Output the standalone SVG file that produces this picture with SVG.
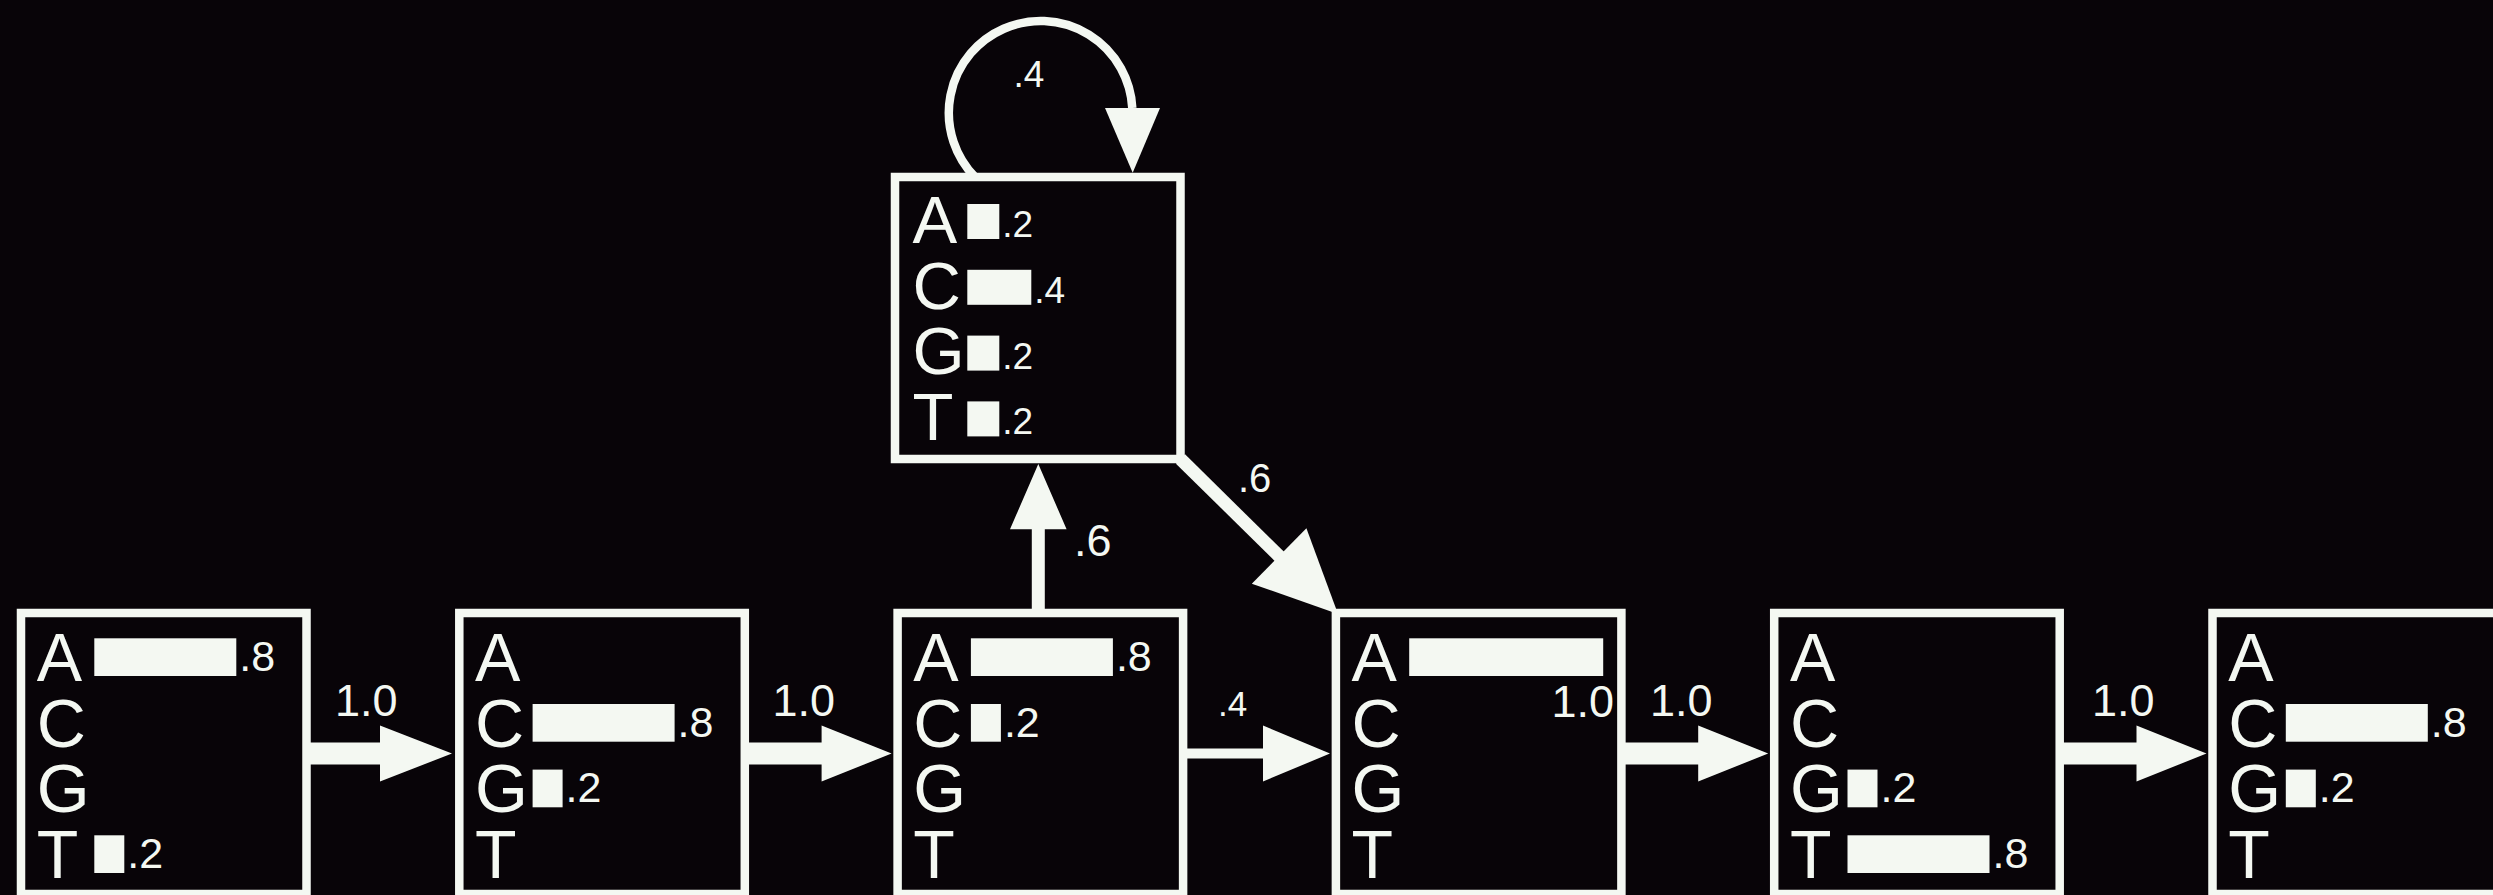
<svg xmlns="http://www.w3.org/2000/svg" width="2493" height="895" viewBox="0 0 2493 895">
<style>
.box{fill:#080408;stroke:#f4f8f2;stroke-width:8.5}
.bar{fill:#f4f8f2}
.nt{font-family:"Liberation Sans",Arial,sans-serif;font-size:68px;fill:#f4f8f2}
.nt2{font-family:"Liberation Sans",Arial,sans-serif;font-size:67px;fill:#f4f8f2}
.pv{font-family:"Liberation Sans",Arial,sans-serif;font-size:43px;fill:#f4f8f2}
.pv2{font-family:"Liberation Sans",Arial,sans-serif;font-size:37px;fill:#f4f8f2}
.el{font-family:"Liberation Sans",Arial,sans-serif;font-size:45px;fill:#f4f8f2}
.arw{fill:#f4f8f2}
.ln{stroke:#f4f8f2;fill:none}
</style>
<rect x="0" y="0" width="2493" height="895" fill="#080408"/>
<g id="connectors">
<polygon class="arw" points="306.5,742.5 380,742.5 380,725.5 452,753.5 380,781.5 380,764.5 306.5,764.5"/>
<polygon class="arw" points="744.8,742.5 821.6,742.5 821.6,725.5 891.6,753.5 821.6,781.5 821.6,764.5 744.8,764.5"/>
<polygon class="arw" points="1183.1,748.5 1263,748.5 1263,725.5 1330,753.5 1263,781.5 1263,758.5 1183.1,758.5"/>
<polygon class="arw" points="1621.4,742.5 1698.2,742.5 1698.2,725.5 1768.2,753.5 1698.2,781.5 1698.2,764.5 1621.4,764.5"/>
<polygon class="arw" points="2059.7,742.5 2136.5,742.5 2136.5,725.5 2206.5,753.5 2136.5,781.5 2136.5,764.5 2059.7,764.5"/>
<polygon class="arw" points="1031.8,609 1031.8,529.3 1010,529.3 1038.3,464 1066.6,529.3 1044.8,529.3 1044.8,609"/>
<line class="ln" x1="1180.5" y1="459" x2="1282" y2="559" stroke-width="13"/>
<polygon class="arw" points="1306.4,528.3 1338,614 1251.8,583.7"/>
<path class="ln" d="M 975 177 A 91.8 91.8 0 1 1 1132.3 108" stroke-width="8.5"/>
<polygon class="arw" points="1105,108 1160,108 1132.7,172.7"/>
<text class="el" x="335" y="716">1.0</text>
<text class="el" x="772.5" y="716">1.0</text>
<text class="el" x="1218" y="716" style="font-size:35px">.4</text>
<text class="el" x="1650" y="716">1.0</text>
<text class="el" x="2092" y="716">1.0</text>
<text class="el" x="1074" y="556">.6</text>
<text class="el" x="1238" y="491.5" style="font-size:40px">.6</text>
<text class="el" x="1013.5" y="86.7" style="font-size:37px">.4</text>
</g>
<g id="state-top">
<rect class="box" x="895" y="177" width="285.5" height="282"/>
<text class="nt2" x="912.5" y="242.7">A</text>
<text class="nt2" x="912.5" y="308.5">C</text>
<text class="nt2" x="912.5" y="374.3">G</text>
<text class="nt2" x="912.5" y="440.1">T</text>
<rect class="bar" x="967.3" y="204" width="32" height="35"/>
<rect class="bar" x="967.3" y="269.8" width="64" height="35"/>
<rect class="bar" x="967.3" y="335.6" width="32" height="35"/>
<rect class="bar" x="967.3" y="401.4" width="32" height="35"/>
<text class="pv2" x="1002.3" y="237">.2</text>
<text class="pv2" x="1034.3" y="302.8">.4</text>
<text class="pv2" x="1002.3" y="368.6">.2</text>
<text class="pv2" x="1002.3" y="434.4">.2</text>
</g>
<g id="state-1">
<rect class="box" x="21" y="613" width="285.5" height="281"/>
<text class="nt" x="36.7" y="681">A</text>
<text class="nt" x="36.7" y="746.7">C</text>
<text class="nt" x="36.7" y="812.3">G</text>
<text class="nt" x="36.7" y="878">T</text>
<rect class="bar" x="94.3" y="638.3" width="142" height="37.7"/>
<text class="pv" x="239.3" y="671">.8</text>
<rect class="bar" x="94.3" y="835.3" width="30" height="37.7"/>
<text class="pv" x="127.3" y="868">.2</text>
</g>
<g id="state-2">
<rect class="box" x="459.3" y="613" width="285.5" height="281"/>
<text class="nt" x="475" y="681">A</text>
<text class="nt" x="475" y="746.7">C</text>
<text class="nt" x="475" y="812.3">G</text>
<text class="nt" x="475" y="878">T</text>
<rect class="bar" x="532.6" y="704" width="142" height="37.7"/>
<text class="pv" x="677.6" y="736.7">.8</text>
<rect class="bar" x="532.6" y="769.6" width="30" height="37.7"/>
<text class="pv" x="565.6" y="802.3">.2</text>
</g>
<g id="state-3">
<rect class="box" x="897.6" y="613" width="285.5" height="281"/>
<text class="nt" x="913.3" y="681">A</text>
<text class="nt" x="913.3" y="746.7">C</text>
<text class="nt" x="913.3" y="812.3">G</text>
<text class="nt" x="913.3" y="878">T</text>
<rect class="bar" x="970.9" y="638.3" width="142" height="37.7"/>
<text class="pv" x="1115.9" y="671">.8</text>
<rect class="bar" x="970.9" y="704" width="30" height="37.7"/>
<text class="pv" x="1003.9" y="736.7">.2</text>
</g>
<g id="state-4">
<rect class="box" x="1335.9" y="613" width="285.5" height="281"/>
<text class="nt" x="1351.6" y="681">A</text>
<text class="nt" x="1351.6" y="746.7">C</text>
<text class="nt" x="1351.6" y="812.3">G</text>
<text class="nt" x="1351.6" y="878">T</text>
<rect class="bar" x="1409.2" y="638.3" width="194" height="37.7"/>
<text class="el" x="1614" y="717" text-anchor="end">1.0</text>
</g>
<g id="state-5">
<rect class="box" x="1774.2" y="613" width="285.5" height="281"/>
<text class="nt" x="1789.9" y="681">A</text>
<text class="nt" x="1789.9" y="746.7">C</text>
<text class="nt" x="1789.9" y="812.3">G</text>
<text class="nt" x="1789.9" y="878">T</text>
<rect class="bar" x="1847.5" y="769.6" width="30" height="37.7"/>
<text class="pv" x="1880.5" y="802.3">.2</text>
<rect class="bar" x="1847.5" y="835.3" width="142" height="37.7"/>
<text class="pv" x="1992.5" y="868">.8</text>
</g>
<g id="state-6">
<rect class="box" x="2212.5" y="613" width="285.5" height="281"/>
<text class="nt" x="2228.2" y="681">A</text>
<text class="nt" x="2228.2" y="746.7">C</text>
<text class="nt" x="2228.2" y="812.3">G</text>
<text class="nt" x="2228.2" y="878">T</text>
<rect class="bar" x="2285.8" y="704" width="142" height="37.7"/>
<text class="pv" x="2430.8" y="736.7">.8</text>
<rect class="bar" x="2285.8" y="769.6" width="30" height="37.7"/>
<text class="pv" x="2318.8" y="802.3">.2</text>
</g>
</svg>
